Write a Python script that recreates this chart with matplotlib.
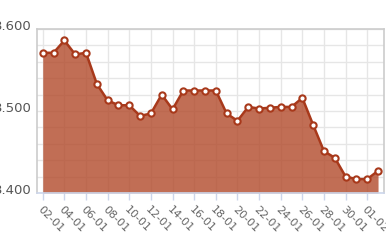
import matplotlib
matplotlib.use("Agg")
import matplotlib.pyplot as plt
import matplotlib.transforms as mtransforms

# daily values, 02-01 .. 02-02
days = ["02-01", "03-01", "04-01", "05-01", "06-01", "07-01", "08-01", "09-01",
        "10-01", "11-01", "12-01", "13-01", "14-01", "15-01", "16-01", "17-01",
        "18-01", "19-01", "20-01", "21-01", "22-01", "23-01", "24-01", "25-01",
        "26-01", "27-01", "28-01", "29-01", "30-01", "31-01", "01-02", "02-02"]
values = [3.571, 3.571, 3.586, 3.569, 3.571, 3.533, 3.513, 3.507,
          3.507, 3.494, 3.497, 3.520, 3.502, 3.525, 3.525, 3.525,
          3.525, 3.497, 3.488, 3.505, 3.503, 3.504, 3.505, 3.505,
          3.516, 3.483, 3.451, 3.443, 3.420, 3.417, 3.417, 3.427]
y_ticks = [3.400, 3.500, 3.600]

x = list(range(len(days)))

fig = plt.figure(figsize=(3.86, 2.45), dpi=100)
ax = fig.add_axes([0.0959, 0.2122, 0.8989, 0.6694])

ax.fill_between(x, values, 3.4, color="#b24a2b", alpha=0.8, linewidth=0, zorder=2)
ax.plot(x, values, color="#a8391b", linewidth=1.8, marker="o", markersize=4.5,
        markerfacecolor="white", markeredgecolor="#a8391b", markeredgewidth=1.5, zorder=3)

ax.set_xlim(-0.53, 31.55)
ax.set_ylim(3.4, 3.6)

# grid: every 2 days, every 0.02
ax.set_xticks(x[::2])
ax.set_xticklabels(days[::2], rotation=-45, ha="left", va="top",
                   rotation_mode="anchor", fontsize=8, color="#666666")
ax.set_yticks([3.4 + 0.02 * i for i in range(11)], minor=True)
ax.set_yticks(y_ticks)
ax.set_yticklabels(["%.3f" % v for v in y_ticks], fontsize=9.5, color="#555555")
ax.grid(True, which="both", color="#e6e6e6", linewidth=1, zorder=0)
ax.set_axisbelow(True)

ax.tick_params(axis="y", which="both", length=0, pad=4)
ax.tick_params(axis="x", length=5, width=1, color="#ccd6eb", pad=3)
for s in ax.spines.values():
    s.set_color("#cccccc")
    s.set_linewidth(1.2)
ax.spines["bottom"].set_color("#ccd6eb")

# y labels sit a little above their gridlines
shift = mtransforms.ScaledTranslation(0, 4 / 100, fig.dpi_scale_trans)
for lab in ax.get_yticklabels():
    lab.set_transform(lab.get_transform() + shift)

fig.savefig("out.png", dpi=100)
